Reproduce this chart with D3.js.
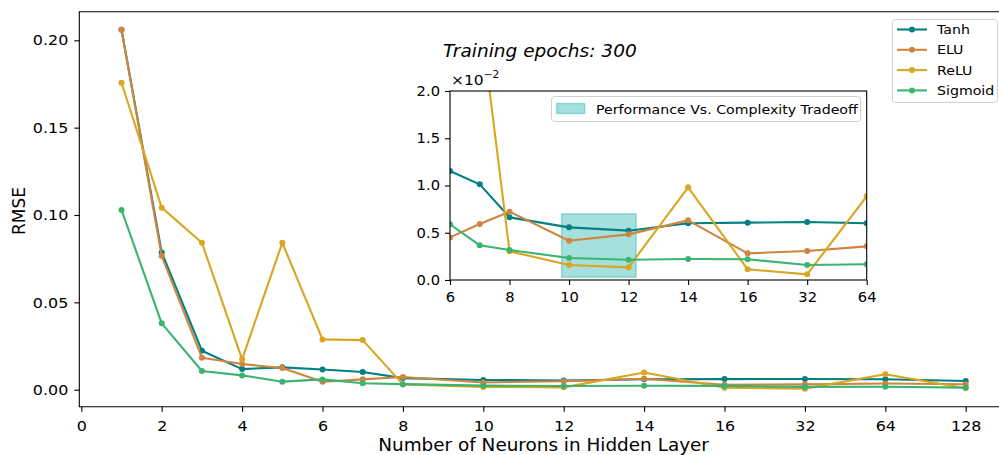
<!DOCTYPE html>
<html>
<head>
<meta charset="utf-8">
<script src="https://cdn.jsdelivr.net/npm/d3@7"></script>
<style>
  html, body { margin: 0; padding: 0; background: #fff; }
  svg { display: block; font-family: "DejaVu Sans", sans-serif; }
</style>
</head>
<body>
<svg id="chart" width="999" height="455"></svg>
<script>
// Hidden-layer sizes and their evenly spaced slots on the x axis
const neurons   = [1, 2, 3, 4, 5, 6, 7, 8, 10, 12, 14, 16, 32, 64, 128];
const slots     = [1, 2, 3, 4, 5, 6, 7, 8, 10, 12, 14, 16, 18, 20, 22];
const tickSlots = [0, 2, 4, 6, 8, 10, 12, 14, 16, 18, 20, 22];
const tickText  = ["0", "2", "4", "6", "8", "10", "12", "14", "16", "32", "64", "128"];

// RMSE per activation function
const tanh    = [0.2061, 0.0786, 0.0223, 0.0118, 0.0128, 0.01153, 0.01012, 0.00663, 0.00557, 0.00522, 0.00600, 0.00607, 0.00614, 0.00600, 0.00500];
const elu     = [0.2061, 0.0765, 0.0183, 0.0147, 0.0124, 0.00451, 0.00593, 0.00723, 0.00416, 0.00483, 0.00631, 0.00282, 0.00307, 0.00356, 0.00310];
const relu    = [0.1757, 0.1042, 0.0841, 0.0174, 0.0841, 0.0288, 0.0284, 0.00303, 0.00159, 0.00134, 0.00981, 0.00113, 0.00060, 0.00885, 0.00080];
const sigmoid = [0.1029, 0.0380, 0.0107, 0.0082, 0.0046, 0.00589, 0.00367, 0.00317, 0.00233, 0.00215, 0.00222, 0.00219, 0.00159, 0.00166, 0.00120];

const seriesNames  = ["Tanh", "ELU", "ReLU", "Sigmoid"];
const seriesValues = [tanh, elu, relu, sigmoid];
const seriesColors = ["#008080", "#cd853f", "#daa520", "#3cb371"];

// Highlighted trade-off band (slots 10..12 neurons)
const bandSlots = [9.75, 12.25];
const bandRange = [0.0003, 0.0070];
const bandLabel = "Performance Vs. Complexity Tradeoff";
const titleText = "Training epochs: 300";

// Horizontal text widening, applied around each label's own x anchor
const SX = 1.09;
function widen(sel) {
  sel.each(function () {
    const t = d3.select(this);
    const x0 = +(t.attr("x") || 0);
    t.attr("transform", `translate(${x0},0) scale(${SX},1) translate(${-x0},0)`);
  });
}

const svg = d3.select("#chart");
const series = seriesNames.map((name, i) => ({
  name, color: seriesColors[i],
  points: seriesValues[i].map((v, j) => ({ slot: slots[j], n: neurons[j], v }))
}));

// ---------- main axes ----------
const M = { left: 79.3, top: 11.7, bottom: 406.7 };
const x = d3.scaleLinear().domain([-0.05, 23.05]).range([M.left, M.left + 23.1 * 40.2]);
const y = d3.scaleLinear().domain([-0.00973, 0.21637]).range([M.bottom, M.top]);

const main = svg.append("g");

// frame (top + left + bottom; right side lies past the page edge)
main.append("path")
  .attr("d", `M${x.range()[1]},${M.top}H${M.left}V${M.bottom}H${x.range()[1]}`)
  .attr("fill", "none").attr("stroke", "#000").attr("stroke-width", 1.1);

const xAxis = main.append("g").attr("transform", `translate(0,${M.bottom})`)
  .call(d3.axisBottom(x).tickValues(tickSlots).tickFormat((d, i) => tickText[i]).tickSize(5).tickPadding(8.5));
const yAxis = main.append("g").attr("transform", `translate(${M.left},0)`)
  .call(d3.axisLeft(y).tickValues([0, 0.05, 0.10, 0.15, 0.20]).tickFormat(d3.format(".2f")).tickSize(5).tickPadding(6));
[xAxis, yAxis].forEach(a => {
  a.select(".domain").remove();
  a.selectAll("line").attr("stroke", "#000").attr("stroke-width", 1.1);
  a.selectAll("text").attr("fill", "#000").style("font-size", "14.6px").style("font-family", "DejaVu Sans").call(widen);
});

main.append("text").attr("x", (x.range()[0] + x.range()[1]) / 2).attr("y", 451.5)
  .attr("text-anchor", "middle").style("font-size", "16.9px").text("Number of Neurons in Hidden Layer").call(widen);
main.append("text").attr("transform", `translate(25,211) rotate(-90)`)
  .attr("text-anchor", "middle").style("font-size", "17px").text("RMSE");

const mainLine = d3.line().x(d => x(d.slot)).y(d => y(d.v));
series.forEach(s => {
  const g = main.append("g");
  g.append("path").attr("d", mainLine(s.points)).attr("fill", "none")
    .attr("stroke", s.color).attr("stroke-width", 2.1).attr("stroke-linejoin", "round");
  g.selectAll("circle").data(s.points).join("circle")
    .attr("cx", d => x(d.slot)).attr("cy", d => y(d.v)).attr("r", 3).attr("fill", s.color);
});

// main legend
const leg = main.append("g");
leg.append("rect").attr("x", 892.5).attr("y", 19.5).attr("width", 105).attr("height", 83).attr("rx", 3)
  .attr("fill", "#fff").attr("fill-opacity", 0.8).attr("stroke", "#d0d0d0");
series.forEach((s, i) => {
  const cy = 29.5 + i * 20.3;
  leg.append("line").attr("x1", 897).attr("x2", 927).attr("y1", cy).attr("y2", cy)
    .attr("stroke", s.color).attr("stroke-width", 2.1);
  leg.append("circle").attr("cx", 912).attr("cy", cy).attr("r", 3).attr("fill", s.color);
  leg.append("text").attr("x", 937).attr("y", cy).attr("dy", "0.36em")
    .style("font-size", "13px").text(s.name).call(widen);
});

// ---------- inset ----------
const I = { left: 450, right: 866.7, top: 91, bottom: 280 };
const xi = d3.scaleLinear().domain([6, 20]).range([I.left, I.right]);
const yi = d3.scaleLinear().domain([0, 0.02]).range([I.bottom, I.top]);
const inset = svg.append("g");

inset.append("text").attr("x", 443).attr("y", 57.3).style("font-size", "17px")
  .style("font-style", "italic").text(titleText).call(widen);

inset.append("rect").attr("x", I.left).attr("y", I.top)
  .attr("width", I.right - I.left).attr("height", I.bottom - I.top).attr("fill", "#fff");

svg.append("defs").append("clipPath").attr("id", "insetClip")
  .append("rect").attr("x", I.left).attr("y", I.top)
  .attr("width", I.right - I.left).attr("height", I.bottom - I.top);

const plot = inset.append("g").attr("clip-path", "url(#insetClip)");
plot.append("rect")
  .attr("x", xi(bandSlots[0])).attr("width", xi(bandSlots[1]) - xi(bandSlots[0]))
  .attr("y", yi(bandRange[1])).attr("height", yi(bandRange[0]) - yi(bandRange[1]))
  .attr("fill", "#20b2aa").attr("fill-opacity", 0.4)
  .attr("stroke", "#20b2aa").attr("stroke-opacity", 0.4).attr("stroke-width", 1.5);

const insetLine = d3.line().x(d => xi(d.slot)).y(d => yi(d.v));
series.forEach(s => {
  const pts = s.points.filter(d => d.slot >= 6 && d.slot <= 20);
  plot.append("path").attr("d", insetLine(pts)).attr("fill", "none")
    .attr("stroke", s.color).attr("stroke-width", 2.1).attr("stroke-linejoin", "round");
  plot.selectAll(null).data(pts).join("circle")
    .attr("cx", d => xi(d.slot)).attr("cy", d => yi(d.v)).attr("r", 3).attr("fill", s.color);
});

inset.append("rect").attr("x", I.left).attr("y", I.top)
  .attr("width", I.right - I.left).attr("height", I.bottom - I.top)
  .attr("fill", "none").attr("stroke", "#000").attr("stroke-width", 1.1);

const insetSlots = tickSlots.filter(t => t >= 6 && t <= 20);
const xiAxis = inset.append("g").attr("transform", `translate(0,${I.bottom})`)
  .call(d3.axisBottom(xi).tickValues(insetSlots)
    .tickFormat(d => tickText[tickSlots.indexOf(d)]).tickSize(5).tickPadding(7));
const yiAxis = inset.append("g").attr("transform", `translate(${I.left},0)`)
  .call(d3.axisLeft(yi).tickValues([0, 0.005, 0.01, 0.015, 0.02])
    .tickFormat(d => d3.format(".1f")(d * 100)).tickSize(5).tickPadding(5));
[xiAxis, yiAxis].forEach(a => {
  a.select(".domain").remove();
  a.selectAll("line").attr("stroke", "#000").attr("stroke-width", 1.1);
  a.selectAll("text").attr("fill", "#000").style("font-size", "13.5px").style("font-family", "DejaVu Sans").call(widen);
});

// scale factor label
const off = inset.append("text").attr("x", 451).attr("y", 85).style("font-size", "14.2px");
off.append("tspan").text("×10");
off.append("tspan").attr("dy", -7).style("font-size", "9.8px").text("−2");
off.call(widen);

// inset legend
const il = inset.append("g");
il.append("rect").attr("x", 551.5).attr("y", 96.5).attr("width", 309).attr("height", 25).attr("rx", 3)
  .attr("fill", "#fff").attr("fill-opacity", 0.8).attr("stroke", "#d0d0d0");
il.append("rect").attr("x", 556.7).attr("y", 103.5).attr("width", 28).attr("height", 10)
  .attr("fill", "#20b2aa").attr("fill-opacity", 0.4)
  .attr("stroke", "#20b2aa").attr("stroke-opacity", 0.4).attr("stroke-width", 1.5);
il.append("text").attr("x", 596).attr("y", 109).attr("dy", "0.36em")
  .style("font-size", "13px").text(bandLabel).call(widen);
</script>
</body>
</html>
